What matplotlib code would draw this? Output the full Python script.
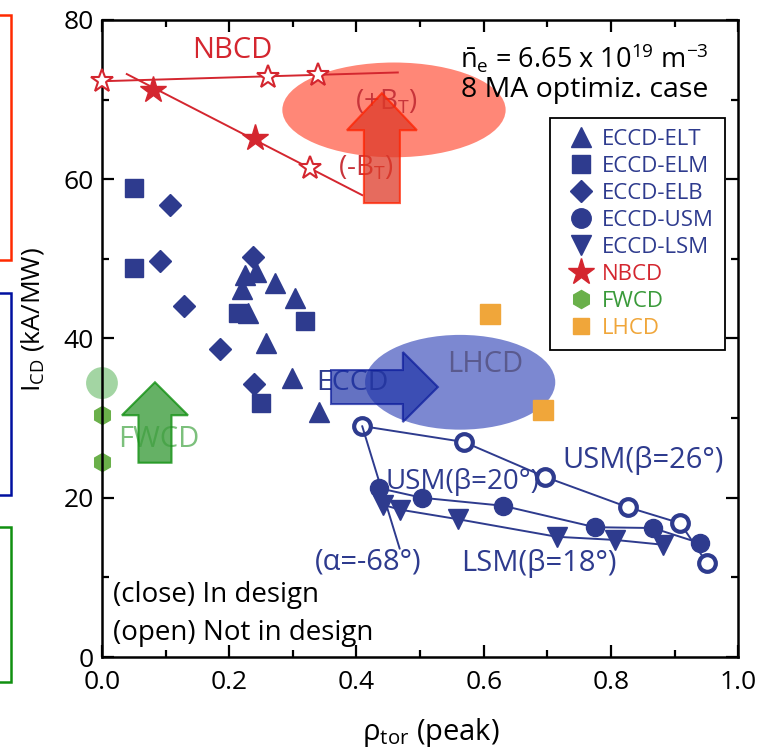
import matplotlib
matplotlib.use("Agg")
import matplotlib.pyplot as plt
from matplotlib.patches import Ellipse, FancyArrow, Rectangle
from matplotlib.lines import Line2D

plt.rcParams['font.family'] = ['Open Sans', 'DejaVu Sans']
plt.rcParams['mathtext.fontset'] = 'custom'
plt.rcParams['mathtext.rm'] = 'Open Sans'
plt.rcParams['mathtext.it'] = 'Open Sans'
plt.rcParams['mathtext.bf'] = 'Open Sans'

# ECCD launchers (closed = in design)
elt_x = [0.225, 0.242, 0.272, 0.220, 0.303, 0.229, 0.258, 0.299, 0.341]
elt_y = [48.0, 48.4, 47.0, 46.2, 45.1, 43.2, 39.4, 35.0, 30.8]
elm_x = [0.050, 0.050, 0.214, 0.319, 0.250]
elm_y = [58.9, 48.8, 43.2, 42.2, 31.9]
elb_x = [0.107, 0.091, 0.129, 0.186, 0.237, 0.239]
elb_y = [56.8, 49.7, 44.1, 38.7, 50.2, 34.3]

# upper / lower steering mirror scans
usm26_x = [0.409, 0.569, 0.697, 0.827, 0.909, 0.951]
usm26_y = [29.0, 27.0, 22.6, 18.8, 16.8, 11.8]
usm20_x = [0.436, 0.503, 0.630, 0.775, 0.866, 0.940]
usm20_y = [21.2, 20.0, 19.0, 16.3, 16.2, 14.3]
lsm18_x = [0.442, 0.469, 0.560, 0.715, 0.807, 0.882]
lsm18_y = [19.1, 18.5, 17.3, 15.1, 14.7, 14.1]

# NBCD
nbcd_open_x = [0.0, 0.261, 0.340, 0.327]
nbcd_open_y = [72.3, 72.8, 73.1, 61.4]
nbcd_fill_x = [0.080, 0.241]
nbcd_fill_y = [71.2, 65.2]
nbcd_pbt_x = [0.0, 0.465]
nbcd_pbt_y = [72.3, 73.4]
nbcd_mbt_x = [0.039, 0.409]
nbcd_mbt_y = [73.2, 58.0]

# FWCD / LHCD
fw_x = [0.0, 0.0]
fw_y = [30.4, 24.5]
lh_x = [0.610, 0.693]
lh_y = [43.1, 31.0]

navy = '#2E3B8E'
red = '#D4262F'
green = '#6AB04A'
orange = '#F0A63A'

fig = plt.figure(figsize=(7.61, 7.54), dpi=100)
ax = fig.add_axes([0.134, 0.1286, 0.836, 0.845])

# highlight shapes
ax.add_patch(Ellipse((0.459, 68.7), 0.351, 11.9, facecolor='#FF7A68', alpha=0.9,
                     edgecolor='none', zorder=1))
ax.add_patch(Ellipse((0.563, 34.5), 0.299, 11.9, facecolor='#6E7BCC', alpha=0.9,
                     edgecolor='none', zorder=1))
ax.add_patch(Ellipse((0.0, 34.4), 0.050, 4.0, facecolor='#8CCB8C', alpha=0.8,
                     edgecolor='none', zorder=1, clip_on=False))

# NBCD lines and stars
ax.plot(nbcd_pbt_x, nbcd_pbt_y, color=red, lw=1.4, zorder=3, clip_on=False)
ax.plot(nbcd_mbt_x, nbcd_mbt_y, color=red, lw=1.4, zorder=3)
ax.plot(nbcd_open_x, nbcd_open_y, ls='none', marker='*', ms=17, mfc='white', mec=red,
        mew=1.5, zorder=4, clip_on=False)
ax.plot(nbcd_fill_x, nbcd_fill_y, ls='none', marker='*', ms=20, color=red, zorder=4)

# ECCD scatter
ax.plot(elt_x, elt_y, ls='none', marker='^', ms=14, color=navy, zorder=4)
ax.plot(elm_x, elm_y, ls='none', marker='s', ms=13, color=navy, zorder=4)
ax.plot(elb_x, elb_y, ls='none', marker='D', ms=11, color=navy, zorder=4)

# mirror scans
ax.plot(usm26_x, usm26_y, color=navy, lw=1.4, marker='o', ms=12, mfc='white', mec=navy,
        mew=3, zorder=4)
ax.plot(usm20_x, usm20_y, color=navy, lw=1.4, marker='o', ms=13, zorder=4)
ax.plot(lsm18_x, lsm18_y, color=navy, lw=1.4, marker='v', ms=14, zorder=4)
ax.annotate('', xy=(usm26_x[0], usm26_y[0]), xytext=(0.468, 13.6),
            arrowprops=dict(arrowstyle='-', color=navy, lw=1.4,
                            shrinkA=0, shrinkB=0), zorder=4)

# FWCD / LHCD
ax.plot(fw_x, fw_y, ls='none', marker='h', ms=13, color=green, zorder=2, clip_on=False)
ax.plot(lh_x, lh_y, ls='none', marker='s', ms=14, color=orange, zorder=4)

# texts
ax.text(0.204, 76.2, 'NBCD', color=red, fontsize=21, ha='center', va='center')
ax.text(0.447, 69.7, r'(+B$_{\mathrm{T}}$)', color='#C8343A', fontsize=20, ha='center',
        va='center', zorder=2)
ax.text(0.415, 61.4, r'(-B$_{\mathrm{T}}$)', color='#C8343A', fontsize=20, ha='center',
        va='center', zorder=2)
ax.text(0.953, 75.2, r'$\bar{\mathrm{n}}_{\mathrm{e}}$ = 6.65 x 10$^{19}$ m$^{-3}$',
        fontsize=19.5, ha='right', va='center')
ax.text(0.953, 71.2, '8 MA optimiz. case', fontsize=20.5, ha='right', va='center')
ax.text(0.393, 34.4, 'ECCD', color=navy, fontsize=20.5, ha='center', va='center', zorder=2)
ax.text(0.602, 36.7, 'LHCD', color='#5A5A8E', fontsize=21, ha='center', va='center',
        zorder=2)
ax.text(0.0896, 27.3, 'FWCD', color='#7CC07C', fontsize=21, ha='center', va='center',
        zorder=2)
ax.text(0.851, 24.7, 'USM(β=26°)', color=navy, fontsize=21, ha='center', va='center')
ax.text(0.566, 22.0, 'USM(β=20°)', color=navy, fontsize=20, ha='center', va='center',
        zorder=5)
ax.text(0.418, 11.9, '(α=-68°)', color=navy, fontsize=21, ha='center', va='center')
ax.text(0.686, 11.8, 'LSM(β=18°)', color=navy, fontsize=21, ha='center', va='center')
ax.text(0.017, 7.8, '(close) In design', fontsize=20, ha='left', va='center')
ax.text(0.017, 3.0, '(open) Not in design', fontsize=20, ha='left', va='center')

# arrows
ax.add_patch(FancyArrow(0.440, 57.0, 0, 13.8, width=0.0566, head_width=0.110,
                        head_length=4.65, length_includes_head=True,
                        facecolor='#DE3A28', alpha=0.75, edgecolor='#FF2200', lw=1.5,
                        zorder=3))
ax.add_patch(FancyArrow(0.0833, 24.4, 0, 10.1, width=0.0519, head_width=0.1038,
                        head_length=4.14, length_includes_head=True,
                        facecolor='#3E9E3E', alpha=0.8, edgecolor='#109010', lw=1.5,
                        zorder=3))
ax.add_patch(FancyArrow(0.360, 33.9, 0.168, 0, width=4.27, head_width=8.79,
                        head_length=0.055, length_includes_head=True,
                        facecolor='#2236A8', alpha=0.7, edgecolor='#0A1A9A', lw=1.5,
                        zorder=3))

# axes
ax.set_xlim(0, 1.0)
ax.set_ylim(0, 80)
ax.set_xticks([0.0, 0.2, 0.4, 0.6, 0.8, 1.0])
ax.set_xticklabels(['0.0', '0.2', '0.4', '0.6', '0.8', '1.0'])
ax.set_yticks([0, 20, 40, 60, 80])
ax.set_xticks([0.1, 0.3, 0.5, 0.7, 0.9], minor=True)
ax.set_yticks([10, 30, 50, 70], minor=True)
ax.tick_params(which='both', direction='in', top=True, right=True, width=1.6,
               labelsize=19)
ax.tick_params(which='major', length=8.5)
ax.tick_params(which='minor', length=5)
ax.tick_params(axis='x', pad=9)
ax.tick_params(axis='y', pad=6)
for sp in ax.spines.values():
    sp.set_linewidth(1.8)

ax.set_xlabel(r'ρ$_{\mathrm{tor}}$ (peak)', fontsize=21)
ax.set_ylabel(r'I$_{\mathrm{CD}}$ (kA/MW)', fontsize=19)
ax.xaxis.set_label_coords(0.517, -0.093)
ax.yaxis.set_label_coords(-0.088, 0.53)

# legend
handles = [
    Line2D([], [], ls='none', marker='^', ms=14, color=navy),
    Line2D([], [], ls='none', marker='s', ms=13, color=navy),
    Line2D([], [], ls='none', marker='D', ms=11, color=navy),
    Line2D([], [], ls='none', marker='o', ms=14, color=navy),
    Line2D([], [], ls='none', marker='v', ms=14, color=navy),
    Line2D([], [], ls='none', marker='*', ms=20, color=red),
    Line2D([], [], ls='none', marker='h', ms=13, color=green),
    Line2D([], [], ls='none', marker='s', ms=12, color=orange),
]
labels = ['ECCD-ELT', 'ECCD-ELM', 'ECCD-ELB', 'ECCD-USM', 'ECCD-LSM', 'NBCD', 'FWCD', 'LHCD']
label_colors = [navy, navy, navy, navy, navy, red, '#3A9A3A', orange]
leg = ax.legend(handles, labels, loc='upper right', bbox_to_anchor=(0.953, 0.8435),
                bbox_transform=fig.transFigure, fontsize=16, frameon=True,
                fancybox=False, edgecolor='black', framealpha=1, handlelength=1.8,
                handletextpad=0.05, labelspacing=0.27, borderpad=0.5, borderaxespad=0)
leg.get_frame().set_linewidth(1.3)
for t, c in zip(leg.get_texts(), label_colors):
    t.set_color(c)

# side boxes
fig.add_artist(Rectangle((-0.01, 0.655), 0.0245, 0.325, transform=fig.transFigure,
                         fill=False, edgecolor='#FF2A00', lw=1.8))
fig.add_artist(Rectangle((-0.01, 0.3435), 0.0245, 0.268, transform=fig.transFigure,
                         fill=False, edgecolor='#0010A0', lw=1.8))
fig.add_artist(Rectangle((-0.01, 0.0955), 0.0245, 0.2055, transform=fig.transFigure,
                         fill=False, edgecolor='#109010', lw=1.8))

fig.savefig('out.png', dpi=100)
